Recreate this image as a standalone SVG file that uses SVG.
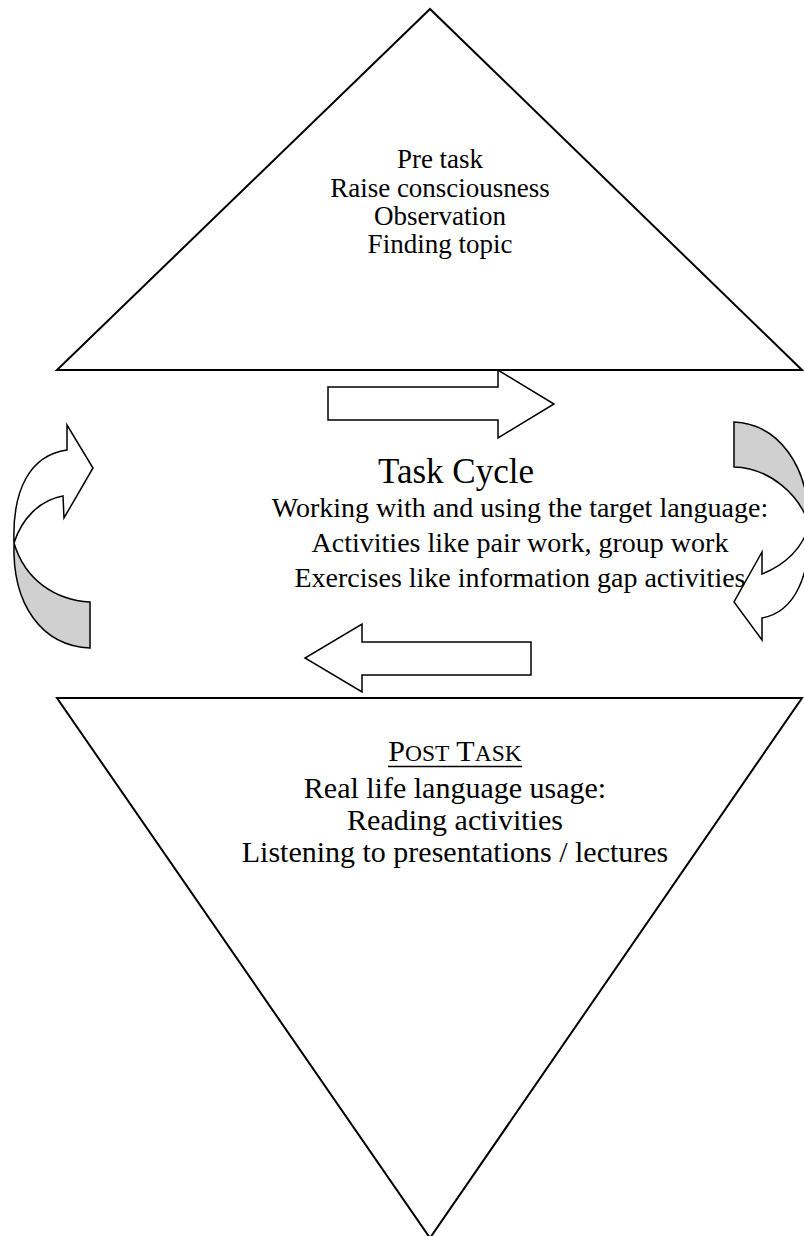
<svg xmlns="http://www.w3.org/2000/svg" width="804" height="1236" viewBox="0 0 804 1236">
<style>
.shape{fill:#fff;stroke:#000;stroke-width:2;stroke-linejoin:miter}
.arr{fill:#fff;stroke:#000;stroke-width:1.5;stroke-linejoin:miter}
.back{fill:#d0d0d0;stroke:#000;stroke-width:1.5;stroke-linejoin:miter}
.t{font-family:"Liberation Serif","Times New Roman",serif;fill:#000;text-anchor:middle}
</style>
<rect width="804" height="1236" fill="#fff"/>
<g id="connectors">
<polygon class="arr" points="328,387 498,387 498,370 554,404 498,438 498,420 328,420"/>
<polygon class="arr" points="531,642 362,642 362,624 305,658 362,692 362,675 531,675"/>
<path class="back" d="M14,543 C12,605 42,646 90,648 L90,602 C55,600 25,580 14,543 Z"/>
<path class="arr" d="M67,450 L67,425 L93,468 L64,518 L63,496 C40,500 22,518 14,543 C12,490 30,455 67,450 Z"/>
<path class="back" d="M734,422 C778,424 809,465 809,525 C800,495 770,468 734,467 Z"/>
<path class="arr" d="M809,525 C811,575 795,612 762,618 L762,640 L734,602 L762,552 L762,574 C785,565 803,548 809,525 Z"/>
</g>
<g id="pre-task">
<polygon class="shape" points="430,9 57,370 802,370"/>
<text class="t" font-size="27"><tspan x="440" y="168">Pre task</tspan><tspan x="440" y="197">Raise consciousness</tspan><tspan x="440" y="225">Observation</tspan><tspan x="440" y="253">Finding topic</tspan></text>
</g>
<g id="post-task">
<polygon class="shape" points="57,698 802,698 430,1238"/>
<text class="t" font-size="30" x="455" y="761">P<tspan font-size="23.5">OST</tspan> T<tspan font-size="23.5">ASK</tspan></text>
<line x1="388" y1="766.5" x2="522" y2="766.5" stroke="#000" stroke-width="1.5"/>
<text class="t" font-size="30"><tspan x="455" y="798">Real life language usage:</tspan><tspan x="455" y="830">Reading activities</tspan><tspan x="455" y="862">Listening to presentations / lectures</tspan></text>
</g>
<g id="task-cycle">
<text class="t" font-size="35" x="456" y="483">Task Cycle</text>
<text class="t" font-size="28"><tspan x="520" y="517">Working with and using the target language:</tspan><tspan x="520" y="552">Activities like pair work, group work</tspan><tspan x="520" y="587">Exercises like information gap activities</tspan></text>
</g>
</svg>
